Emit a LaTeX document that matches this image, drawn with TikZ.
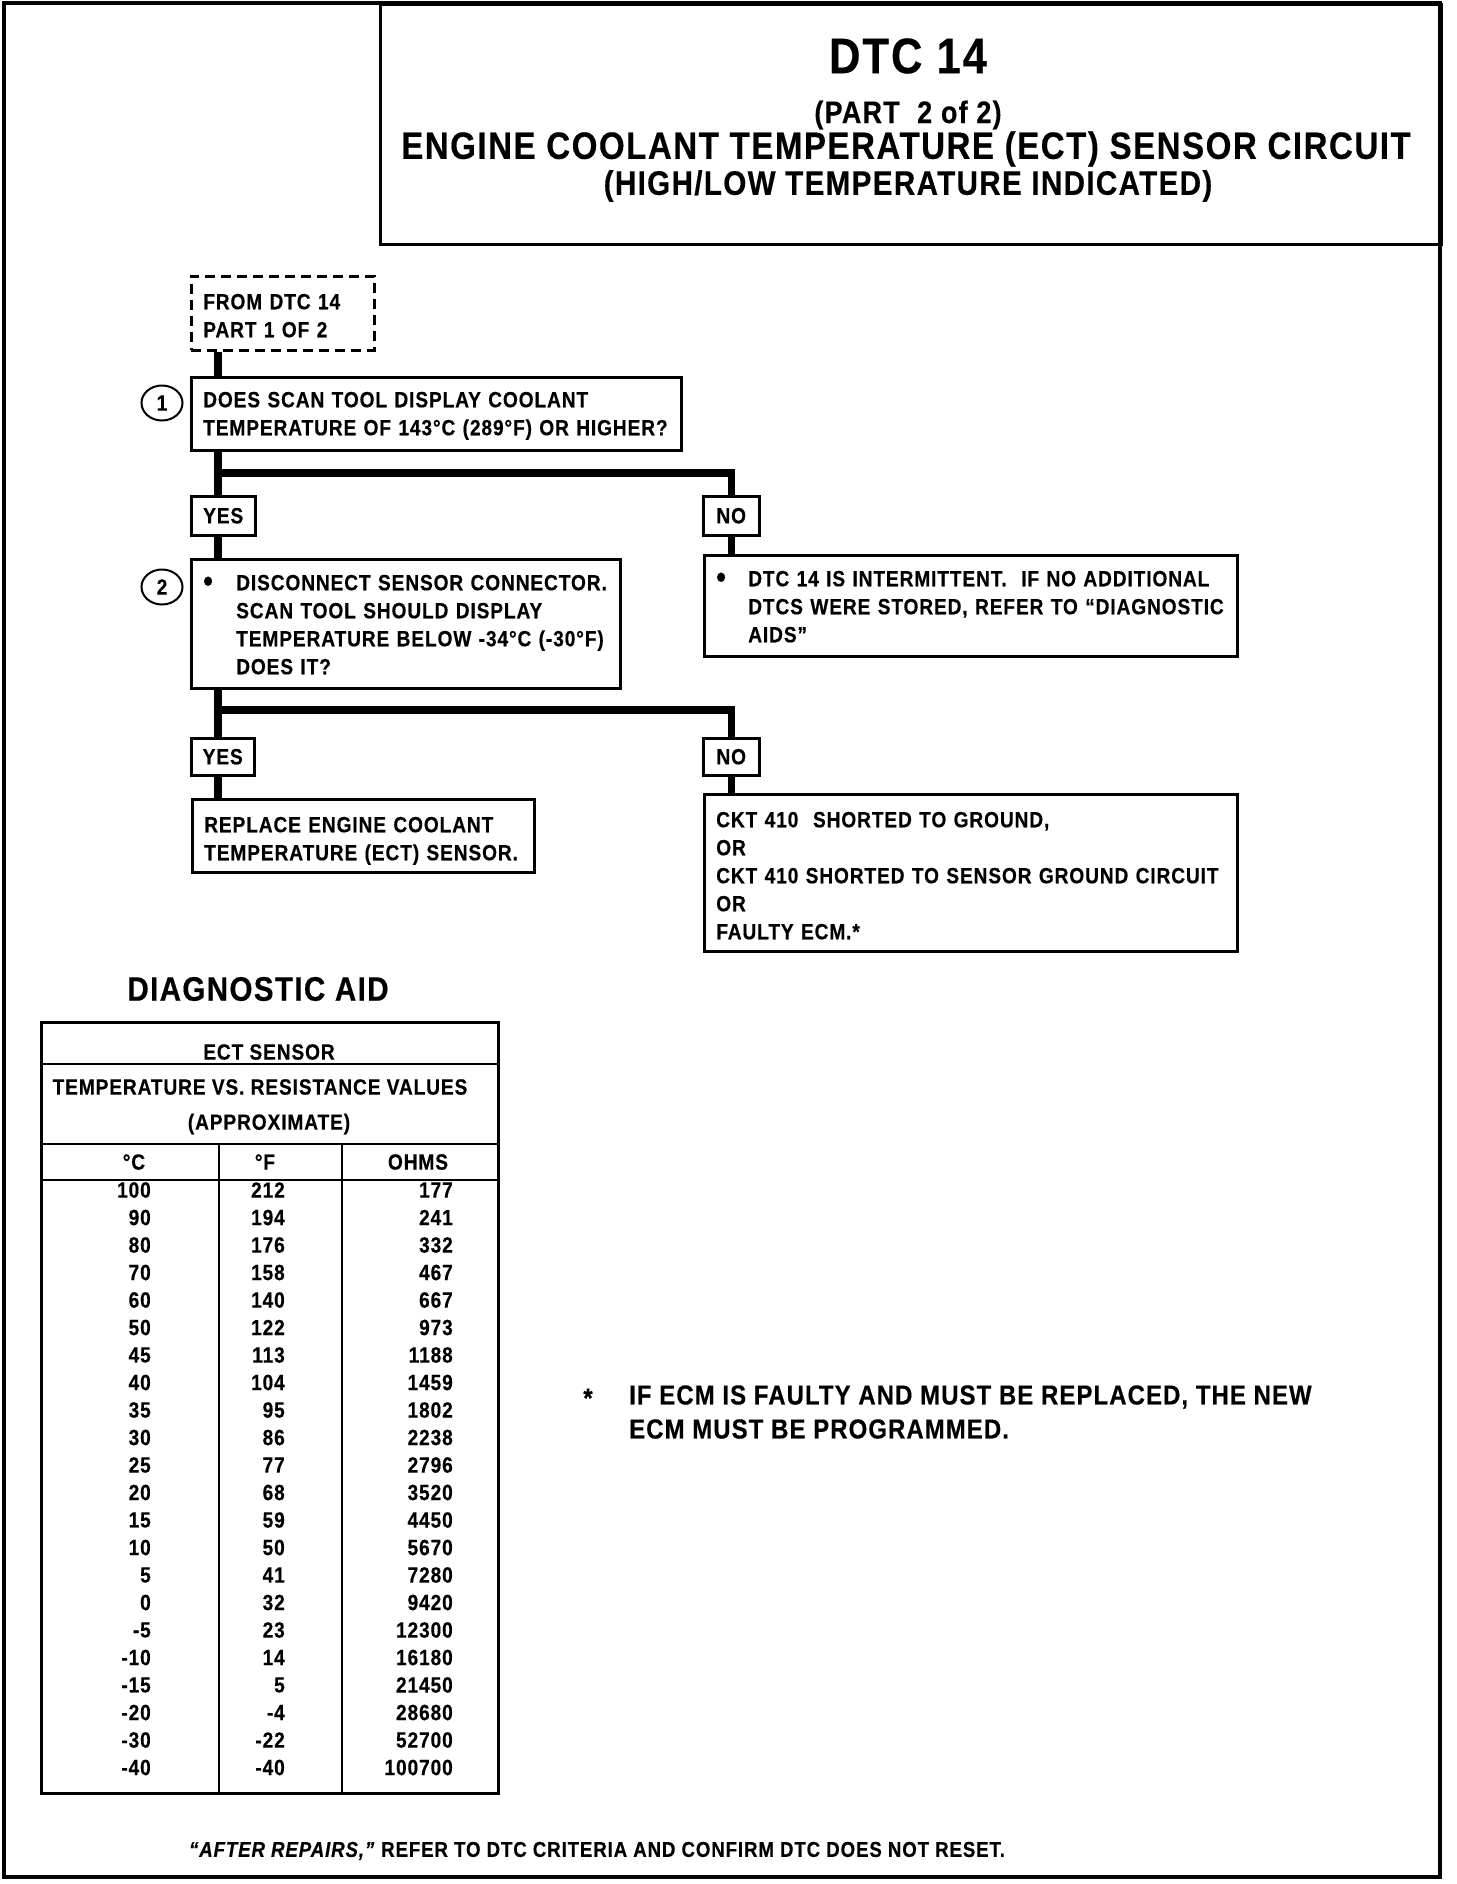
\documentclass[tikz,border=0pt]{standalone}
\usepackage{fontspec}
\setmainfont{Liberation Sans}[FakeStretch=0.87,LetterSpace=4,FakeBold=0.4]
\usetikzlibrary{shapes.geometric}
\newcommand\ftxt{\bfseries\fontsize{22}{28}\selectfont}
\newcommand\flab{\bfseries\fontsize{22}{24}\selectfont}
\newcommand\ftab{\bfseries\fontsize{22}{24}\selectfont}
\newcommand\fnum{\bfseries\fontsize{22}{24}\selectfont}
\newcommand\bul{\raisebox{-1.5pt}{\scalebox{1.45}{\textbullet}}}
\begin{document}
\begin{tikzpicture}[x=1pt,y=-1pt,
  box/.style={draw, line width=2.5pt, anchor=north west, inner xsep=12pt, inner ysep=0pt, align=left, font=\ftxt},
  lab/.style={draw, line width=2.5pt, anchor=north west, inner sep=0pt, font=\flab},
  conn/.style={line width=7.5pt, line join=miter},
  num/.style={draw, ellipse, line width=2pt, minimum width=41pt, minimum height=35pt, inner sep=0pt, font=\fnum},
  cell/.style={anchor=east, inner sep=0pt, font=\ftab},
  hcell/.style={inner sep=0pt, font=\ftab},
  tline/.style={line width=2.5pt},
  plain/.style={inner sep=0pt}
]
\useasboundingbox (0,0) rectangle (1456,1884);
% outer frame and title box
\draw[line width=4pt] (4,3) rectangle (1440,1877);
\node[draw, line width=3pt, anchor=north west, minimum width=1061pt, minimum height=240pt, inner sep=0pt] (titlebox) at (379,3) {};
\node[plain, font=\bfseries\fontsize{50}{54}\selectfont] (t1) at (908,56) {DTC 14};
\node[plain, font=\bfseries\fontsize{31}{34}\selectfont] (t2) at (908,115) {(PART\ \ 2 of 2)};
\node[plain, font=\bfseries\fontsize{38}{42}\selectfont] (t3) at (906,149) {ENGINE COOLANT TEMPERATURE (ECT) SENSOR CIRCUIT};
\node[plain, font=\bfseries\fontsize{34}{38}\selectfont] (t4) at (908,186) {(HIGH/LOW TEMPERATURE INDICATED)};

% flow chart
\coordinate (spine) at (218,0);
\node[box, dashed, dash pattern=on 10pt off 6pt, minimum width=183pt, text height=33pt, text depth=41pt, text width=159pt] (from) at (190,275) {FROM DTC 14\\PART 1 OF 2};
\node[box, minimum width=490pt, text height=30pt, text depth=43pt, text width=466pt] (q1) at (190,376) {DOES SCAN TOOL DISPLAY COOLANT\\TEMPERATURE OF 143°C (289°F) OR HIGHER?};
\node[num] (n1) at (162,403) {1};
\node[lab, minimum width=64pt, minimum height=39pt] (yes1) at (190,495) {YES};
\node[lab, minimum width=56pt, minimum height=39pt] (no1) at (702,495) {NO};
\node[box, minimum width=429pt, text height=31pt, text depth=98pt, text width=405pt] (q2) at (190,558) {\makebox[33pt][l]{\bul}DISCONNECT SENSOR CONNECTOR.\\\hspace*{33pt}SCAN TOOL SHOULD DISPLAY\\\hspace*{33pt}TEMPERATURE BELOW -34°C (-30°F)\\\hspace*{33pt}DOES IT?};
\node[num] (n2) at (162,587) {2};
\node[box, minimum width=533pt, text height=31pt, text depth=70pt, text width=509pt] (r1) at (703,554) {\makebox[32pt][l]{\bul}DTC 14 IS INTERMITTENT.\ \ IF NO ADDITIONAL\\\hspace*{32pt}DTCS WERE STORED, REFER TO “DIAGNOSTIC\\\hspace*{32pt}AIDS”};
\node[lab, minimum width=63pt, minimum height=37pt] (yes2) at (190,737) {YES};
\node[lab, minimum width=56pt, minimum height=37pt] (no2) at (702,737) {NO};
\node[box, minimum width=342pt, text height=33pt, text depth=40pt, text width=318pt] (r2) at (191,798) {REPLACE ENGINE COOLANT\\TEMPERATURE (ECT) SENSOR.};
\node[box, minimum width=533pt, text height=33pt, text depth=124pt, text width=509pt] (r3) at (703,793) {CKT 410\ \ SHORTED TO GROUND,\\OR\\CKT 410 SHORTED TO SENSOR GROUND CIRCUIT\\OR\\FAULTY ECM.*};

\coordinate (j1) at (218,473);
\coordinate (j2) at (218,710);
\draw[conn] (from.south -| spine) -- (q1.north -| spine);
\draw[conn] (q1.south -| spine) -- (yes1.north -| spine);
\draw[conn] (j1) -| (no1.north);
\draw[conn] (yes1.south -| spine) -- (q2.north -| spine);
\draw[conn] (no1.south) -- (r1.north -| no1.south);
\draw[conn] (q2.south -| spine) -- (yes2.north -| spine);
\draw[conn] (j2) -| (no2.north);
\draw[conn] (yes2.south -| spine) -- (r2.north -| spine);
\draw[conn] (no2.south) -- (r3.north -| no2.south);

% diagnostic aid table
\node[plain, font=\bfseries\fontsize{34}{38}\selectfont] (da) at (258,989) {DIAGNOSTIC AID};
\node[draw, line width=2.5pt, anchor=north west, minimum width=457pt, minimum height=771pt, inner sep=0pt] (tab) at (40,1021) {};
\draw[tline] (40,1064) -- (497,1064);
\draw[tline] (40,1144) -- (497,1144);
\draw[tline] (40,1180) -- (497,1180);
\draw[tline] (219,1144) -- (219,1792);
\draw[tline] (342,1144) -- (342,1792);
\node[hcell] (h1) at (269,1052) {ECT SENSOR};
\node[hcell] (h2) at (260,1087) {TEMPERATURE VS. RESISTANCE VALUES};
\node[hcell] (h3) at (269,1124) {(APPROXIMATE)};
\node[hcell] (hc) at (134,1162) {°C};
\node[hcell] (hf) at (265,1162) {°F};
\node[hcell] (ho) at (418,1162) {OHMS};
\foreach \c/\f/\o [count=\i from 0] in {100/212/177, 90/194/241, 80/176/332, 70/158/467, 60/140/667, 50/122/973, 45/113/1188, 40/104/1459, 35/95/1802, 30/86/2238, 25/77/2796, 20/68/3520, 15/59/4450, 10/50/5670, 5/41/7280, 0/32/9420, -5/23/12300, -10/14/16180, -15/5/21450, -20/-4/28680, -30/-22/52700, -40/-40/100700}{
  \node[cell] (tc\i) at (151,{1190+27.5*\i}) {\c};
  \node[cell] (tf\i) at (285,{1190+27.5*\i}) {\f};
  \node[cell] (to\i) at (453,{1190+27.5*\i}) {\o};
}

% footnotes
\node[plain, font=\bfseries\fontsize{27.5}{33}\selectfont] (ast) at (588,1398) {*};
\node[plain, anchor=west, align=left, font=\bfseries\fontsize{27.5}{34}\selectfont] (fn) at (629,1412) {IF ECM IS FAULTY AND MUST BE REPLACED, THE NEW\\ECM MUST BE PROGRAMMED.};
\node[plain, font=\bfseries\fontsize{21.5}{24}\selectfont] (ar) at (597,1851) {\textit{“AFTER REPAIRS,”} REFER TO DTC CRITERIA AND CONFIRM DTC DOES NOT RESET.};
\end{tikzpicture}
\end{document}
